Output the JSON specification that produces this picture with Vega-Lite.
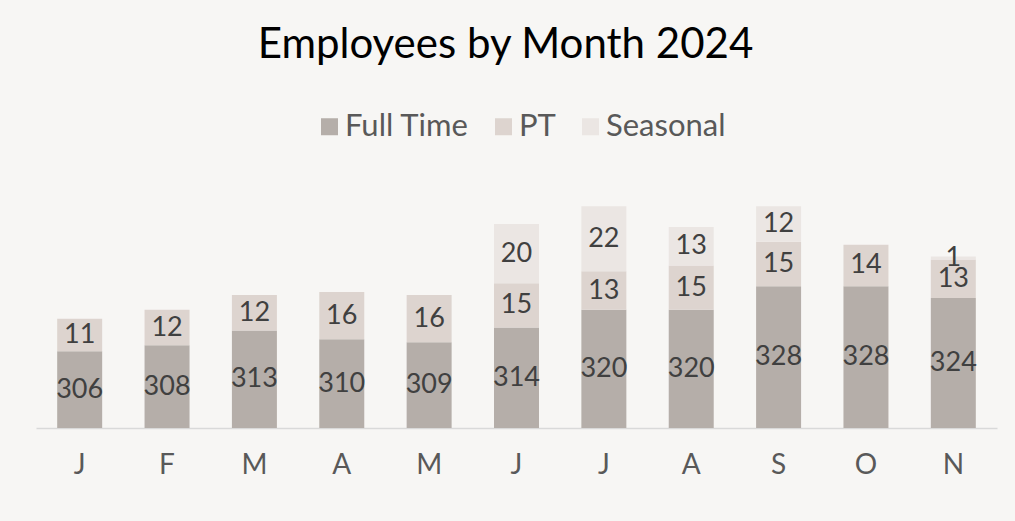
{
  "$schema": "https://vega.github.io/schema/vega-lite/v6.json",
  "autosize": {"type": "none"},
  "width": 961,
  "height": 266,
  "padding": {"left": 36, "top": 162, "right": 18, "bottom": 93},
  "background": "#f7f6f4",
  "config": {"view": {"stroke": null}, "font": "Lato"},
  "title": {"text": "Employees by Month 2024", "fontSize": 42, "font": "Lato", "fontWeight": "normal", "color": "#000000", "anchor": "middle", "dx": -11, "offset": 44},
  "data": {"values": [
    {"month": "Jan", "type": "Full Time", "value": 306, "order": 1},
    {"month": "Jan", "type": "PT", "value": 11, "order": 2},
    {"month": "Feb", "type": "Full Time", "value": 308, "order": 1},
    {"month": "Feb", "type": "PT", "value": 12, "order": 2},
    {"month": "Mar", "type": "Full Time", "value": 313, "order": 1},
    {"month": "Mar", "type": "PT", "value": 12, "order": 2},
    {"month": "Apr", "type": "Full Time", "value": 310, "order": 1},
    {"month": "Apr", "type": "PT", "value": 16, "order": 2},
    {"month": "May", "type": "Full Time", "value": 309, "order": 1},
    {"month": "May", "type": "PT", "value": 16, "order": 2},
    {"month": "Jun", "type": "Full Time", "value": 314, "order": 1},
    {"month": "Jun", "type": "PT", "value": 15, "order": 2},
    {"month": "Jun", "type": "Seasonal", "value": 20, "order": 3},
    {"month": "Jul", "type": "Full Time", "value": 320, "order": 1},
    {"month": "Jul", "type": "PT", "value": 13, "order": 2},
    {"month": "Jul", "type": "Seasonal", "value": 22, "order": 3},
    {"month": "Aug", "type": "Full Time", "value": 320, "order": 1},
    {"month": "Aug", "type": "PT", "value": 15, "order": 2},
    {"month": "Aug", "type": "Seasonal", "value": 13, "order": 3},
    {"month": "Sep", "type": "Full Time", "value": 328, "order": 1},
    {"month": "Sep", "type": "PT", "value": 15, "order": 2},
    {"month": "Sep", "type": "Seasonal", "value": 12, "order": 3},
    {"month": "Oct", "type": "Full Time", "value": 328, "order": 1},
    {"month": "Oct", "type": "PT", "value": 14, "order": 2},
    {"month": "Nov", "type": "Full Time", "value": 324, "order": 1},
    {"month": "Nov", "type": "PT", "value": 13, "order": 2},
    {"month": "Nov", "type": "Seasonal", "value": 1, "order": 3}
  ]},
  "transform": [
    {"stack": "value", "groupby": ["month"], "sort": [{"field": "order", "order": "ascending"}], "as": ["v0", "v1"]},
    {"calculate": "(max(datum.v0, 280) + datum.v1) / 2", "as": "mid"}
  ],
  "encoding": {
    "x": {
      "field": "month", "type": "nominal", "sort": null,
      "scale": {"paddingInner": 0.485, "paddingOuter": 0.2425},
      "axis": {"title": null, "labelExpr": "substring(datum.label, 0, 1)", "labelAngle": 0, "labelFontSize": 28, "labelColor": "#595959", "labelPadding": 23, "ticks": false, "domainColor": "#d9d9d9", "domainWidth": 1.5, "grid": false}
    }
  },
  "layer": [
    {
      "mark": {"type": "bar"},
      "encoding": {
        "y": {"field": "v0", "type": "quantitative", "scale": {"domain": [280, 370], "clamp": true, "nice": false, "zero": false}, "axis": null},
        "y2": {"field": "v1"},
        "color": {
          "field": "type", "type": "nominal",
          "scale": {"domain": ["Full Time", "PT", "Seasonal"], "range": ["#b5aea9", "#ddd4cf", "#ebe6e3"]},
          "legend": {"orient": "none", "legendX": 278, "legendY": -51, "direction": "horizontal", "title": null, "symbolType": "square", "symbolSize": 289, "symbolStrokeWidth": 0, "labelFontSize": 31, "labelColor": "#595959", "labelOffset": 0, "columnPadding": 19}
        }
      }
    },
    {
      "mark": {"type": "text", "fontSize": 27, "color": "#404040", "baseline": "middle"},
      "encoding": {
        "y": {"field": "mid", "type": "quantitative"},
        "text": {"field": "value", "type": "quantitative"}
      }
    }
  ]
}
